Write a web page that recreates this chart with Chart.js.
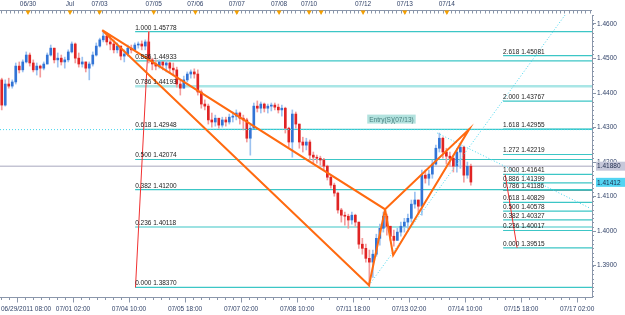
<!DOCTYPE html>
<html>
<head>
<meta charset="utf-8">
<script src="https://cdn.jsdelivr.net/npm/chart.js@4.4.1/dist/chart.umd.min.js"></script>
<style>
  html, body { margin: 0; padding: 0; background: #fff; }
  #wrap { width: 625px; height: 315px; }
</style>
</head>
<body>
<div id="wrap"><canvas id="chart" width="625" height="315"></canvas></div>
<script>
// 2h bars, EURUSD-ish
const firstOpen = 1.4438;
const highs = [
  1.4443,1.4438,1.4443,1.4438,1.4487,1.4490,1.4496,1.4519,1.4516,1.4496,
  1.4487,1.4481,1.4490,1.4516,1.4539,1.4530,1.4516,1.4510,1.4504,1.4525,
  1.4548,1.4545,1.4516,1.4504,1.4490,1.4490,1.4519,1.4545,1.4559,1.4580,
  1.4574,1.4565,1.4554,1.4545,1.4536,1.4525,1.4539,1.4539,1.4545,1.4548,
  1.4551,1.4554,1.4578,1.4501,1.4496,1.4496,1.4490,1.4496,1.4490,1.4487,
  1.4475,1.4438,1.4449,1.4461,1.4467,1.4470,1.4467,1.4409,1.4380,1.4368,
  1.4342,1.4336,1.4327,1.4330,1.4330,1.4339,1.4345,1.4351,1.4345,1.4336,
  1.4327,1.4307,1.4371,1.4377,1.4374,1.4371,1.4368,1.4371,1.4371,1.4368,
  1.4365,1.4359,1.4301,1.4351,1.4345,1.4310,1.4272,1.4269,1.4264,1.4229,
  1.4220,1.4217,1.4211,1.4191,1.4159,1.4139,1.4113,1.4066,1.4055,1.4049,
  1.4055,1.4049,1.4026,1.3979,1.3962,1.3945,1.3945,1.3991,1.4020,1.4055,
  1.4049,1.4014,1.4003,1.4008,1.4026,1.4037,1.4049,1.4090,1.4113,1.4090,
  1.4177,1.4177,1.4177,1.4206,1.4249,1.4284,1.4272,1.4240,1.4229,1.4220,
  1.4240,1.4255,1.4246,1.4200,1.4194
];
const lows = [
  1.4351,1.4362,1.4414,1.4414,1.4426,1.4458,1.4461,1.4487,1.4478,1.4461,
  1.4452,1.4446,1.4467,1.4484,1.4507,1.4487,1.4475,1.4481,1.4472,1.4490,
  1.4516,1.4487,1.4475,1.4475,1.4461,1.4438,1.4478,1.4507,1.4533,1.4548,
  1.4539,1.4525,1.4516,1.4516,1.4496,1.4490,1.4507,1.4516,1.4525,1.4530,
  1.4525,1.4525,1.4487,1.4467,1.4467,1.4472,1.4467,1.4461,1.4458,1.4452,
  1.4417,1.4394,1.4414,1.4432,1.4443,1.4443,1.4394,1.4356,1.4351,1.4310,
  1.4301,1.4304,1.4298,1.4301,1.4304,1.4310,1.4316,1.4322,1.4310,1.4293,
  1.4258,1.4220,1.4298,1.4345,1.4342,1.4345,1.4342,1.4348,1.4351,1.4342,
  1.4333,1.4284,1.4243,1.4214,1.4298,1.4240,1.4229,1.4235,1.4206,1.4197,
  1.4197,1.4191,1.4177,1.4148,1.4124,1.4101,1.4052,1.4026,1.4017,1.4008,
  1.4020,1.4014,1.3950,1.3933,1.3910,1.3837,1.3866,1.3927,1.3959,1.3997,
  1.3988,1.3973,1.3956,1.3973,1.3985,1.3997,1.4008,1.4026,1.4066,1.4049,
  1.4046,1.4139,1.4133,1.4153,1.4191,1.4229,1.4211,1.4194,1.4188,1.4171,
  1.4171,1.4182,1.4142,1.4153,1.4133
];
const closes = [
  1.4365,1.4426,1.4420,1.4432,1.4478,1.4467,1.4490,1.4510,1.4487,1.4467,
  1.4478,1.4472,1.4484,1.4510,1.4530,1.4496,1.4501,1.4490,1.4496,1.4519,
  1.4542,1.4501,1.4484,1.4490,1.4472,1.4484,1.4510,1.4536,1.4554,1.4565,
  1.4548,1.4542,1.4525,1.4536,1.4507,1.4513,1.4530,1.4525,1.4539,1.4542,
  1.4536,1.4548,1.4496,1.4484,1.4478,1.4490,1.4481,1.4487,1.4472,1.4467,
  1.4426,1.4414,1.4438,1.4455,1.4461,1.4455,1.4403,1.4368,1.4362,1.4322,
  1.4316,1.4327,1.4307,1.4322,1.4316,1.4330,1.4333,1.4342,1.4327,1.4322,
  1.4269,1.4298,1.4362,1.4356,1.4368,1.4356,1.4362,1.4365,1.4359,1.4351,
  1.4356,1.4298,1.4258,1.4339,1.4310,1.4258,1.4249,1.4258,1.4220,1.4214,
  1.4211,1.4206,1.4188,1.4156,1.4133,1.4110,1.4061,1.4046,1.4043,1.4032,
  1.4046,1.4026,1.3962,1.3950,1.3921,1.3910,1.3933,1.3979,1.4008,1.4043,
  1.4014,1.3985,1.3973,1.3997,1.4014,1.4026,1.4037,1.4078,1.4090,1.4072,
  1.4162,1.4153,1.4165,1.4194,1.4240,1.4269,1.4229,1.4217,1.4211,1.4188,
  1.4229,1.4243,1.4162,1.4188,1.4142
];

// axes
const xMax = 169.1;
const yMin = 1.3809, yMax = 1.4626;
const yTicks = [1.39, 1.40, 1.41, 1.42, 1.43, 1.44, 1.45, 1.46];
const bottomTickPos = [4.86, 20.86, 36.86, 52.86, 68.86, 84.86, 100.86, 116.86, 132.86, 148.86, 164.86];
const bottomLabels = ["06/29/2011 08:00", "07/01 02:00", "07/04 10:00", "07/05 18:00", "07/07 02:00",
  "07/08 10:00", "07/11 18:00", "07/13 02:00", "07/14 10:00", "07/15 18:00", "07/17 02:00"];
const topPos = [8.0, 20.0, 28.43, 43.91, 55.8, 67.63, 79.71, 88.29, 91.71, 103.71, 115.63, 127.63];
const topLabels = ["06/30", "Jul", "07/03", "07/05", "07/06", "07/07", "07/08", "07/10", "", "07/12", "07/13", "07/14"];

// fibonacci tools
const fibLeftRatios = ["1.000", "0.886", "0.786", "0.618", "0.500", "0.382", "0.236", "0.000"];
const fibLeftLevels = [1.45778, 1.44933, 1.44193, 1.42948, 1.42074, 1.41200, 1.40118, 1.38370];
const fibLeftStart = 38.6;
const fibLeftDiagX = [42.5, 38.7];
const fibLeftDiagY = [1.45778, 1.38370];

const fibRightRatios = ["2.618", "2.000", "1.618", "1.272", "1.000", "0.886", "0.786", "0.618", "0.500", "0.382", "0.236", "0.000"];
const fibRightLevels = [1.45081, 1.43767, 1.42955, 1.42219, 1.41641, 1.41399, 1.41186, 1.40829, 1.40578, 1.40327, 1.40017, 1.39515];
const fibRightStart = 143.7;
const fibRightDiagX = [144.3, 147.7];
const fibRightDiagY = [1.41641, 1.39515];

// XABCD pattern
const patternX = [29.2, 105.4, 110.0, 112.3, 134.0];
const patternY = [1.4582, 1.3843, 1.4063, 1.3930, 1.4295];

// other objects
const entryPrice = 1.4294, entryLabelX = 104.9, entryText = "Entry(S)(07/13)";
const riseLineX = [105.4, 161.4], riseLineY = [1.3843, 1.4626];
const fallLineX = [124.9, 168.6], fallLineY = [1.4284, 1.4066];
const bidPrice = 1.41880, lastPrice = 1.41412;

const FONT = '"Liberation Sans", Arial, sans-serif';
const AXIS = "#8a96aa";
const TEXT = "#33446a";
const FIB = "#3cc6c6";
const ORANGE = "#ff6a10";
const DOT = "#45d6ee";

const opens = closes.map((c, i) => i === 0 ? firstOpen : closes[i - 1]);
const isUp = closes.map((c, i) => c >= opens[i]);

const datasets = [];

datasets.push({
  type: "line", order: 0,
  data: [0, 1, 2, 0, -1, 2, 3, 4, 2].map(k => k < 0 ? { x: patternX[2], y: null } : { x: patternX[k], y: patternY[k] }),
  borderColor: ORANGE, borderWidth: 2, pointRadius: 0, tension: 0, fill: false
});

datasets.push({
  type: "line", order: 1,
  data: [
    { x: riseLineX[0], y: riseLineY[0] }, { x: riseLineX[1], y: riseLineY[1] }, { x: riseLineX[1], y: null },
    { x: fallLineX[0], y: fallLineY[0] }, { x: fallLineX[1], y: fallLineY[1] }, { x: fallLineX[1], y: null },
    { x: 0, y: entryPrice }, { x: xMax, y: entryPrice }
  ],
  borderColor: DOT, borderWidth: 1, borderDash: [1, 2], pointRadius: 0, fill: false
});

datasets.push({
  type: "line", order: 1,
  data: [
    { x: fibLeftDiagX[0], y: fibLeftDiagY[0] }, { x: fibLeftDiagX[1], y: fibLeftDiagY[1] }, { x: fibLeftDiagX[1], y: null },
    { x: fibRightDiagX[0], y: fibRightDiagY[0] }, { x: fibRightDiagX[1], y: fibRightDiagY[1] }
  ],
  borderColor: "#f03030", borderWidth: 1, pointRadius: 0, fill: false
});

datasets.push({
  type: "bar", order: 2, grouped: false,
  data: closes.map((c, i) => ({ x: i + 0.5, y: [opens[i], c] })),
  backgroundColor: isUp.map(u => u ? "#3274d6" : "#e02424"),
  barThickness: 2, minBarLength: 1
});

datasets.push({
  type: "bar", order: 3, grouped: false,
  data: closes.map((c, i) => ({ x: i + 0.5, y: [Math.min(lows[i], opens[i], c), Math.max(highs[i], opens[i], c)] })),
  backgroundColor: isUp.map(u => u ? "#9cc2f0" : "#f39c9c"),
  barThickness: 1
});

fibLeftLevels.forEach((lv, i) => {
  const light = fibLeftRatios[i] === "0.786";
  datasets.push({
    type: "line", order: 4,
    data: [{ x: fibLeftStart, y: lv }, { x: xMax, y: lv }],
    borderColor: light ? "#a9e6e6" : FIB, borderWidth: light ? 2.5 : 1.2, pointRadius: 0, fill: false
  });
});
fibRightLevels.forEach((lv, i) => {
  const dark = fibRightRatios[i] === "0.786";
  datasets.push({
    type: "line", order: 4,
    data: [{ x: fibRightStart, y: lv }, { x: xMax, y: lv }],
    borderColor: dark ? "#1f8c8c" : FIB, borderWidth: 1.2, pointRadius: 0, fill: false
  });
});

datasets.push({
  type: "line", order: 4,
  data: [{ x: 0, y: bidPrice }, { x: xMax, y: bidPrice }],
  borderColor: "#a8a8be", borderWidth: 1, pointRadius: 0, fill: false
});

const overlay = {
  id: "overlay",
  afterDatasetsDraw(chart) {
    const { ctx, scales: { x, y } } = chart;
    ctx.save();
    ctx.font = "6.5px " + FONT;
    ctx.fillStyle = "#222";
    ctx.textAlign = "left";
    ctx.textBaseline = "alphabetic";
    fibLeftLevels.forEach((lv, i) => {
      ctx.fillText(fibLeftRatios[i] + " " + lv.toFixed(5), x.getPixelForValue(fibLeftStart), y.getPixelForValue(lv) - 2);
    });
    fibRightLevels.forEach((lv, i) => {
      ctx.fillText(fibRightRatios[i] + " " + lv.toFixed(5), x.getPixelForValue(fibRightStart), y.getPixelForValue(lv) - 2);
    });
    // entry label
    const ex = x.getPixelForValue(entryLabelX);
    const ey = y.getPixelForValue(entryPrice);
    const w = ctx.measureText(entryText).width + 4;
    ctx.fillStyle = "#b2e2de";
    ctx.fillRect(ex, ey - 15, w, 9);
    ctx.fillStyle = "#4a8080";
    ctx.fillText(entryText, ex + 2, ey - 8);
    ctx.restore();
  },
  afterDraw(chart) {
    const { ctx, chartArea: a, scales: { x, y } } = chart;
    ctx.save();
    ctx.font = "6.5px " + FONT;
    ctx.strokeStyle = AXIS;
    ctx.lineWidth = 1;

    // bottom axis
    const bY = Math.round(a.bottom) + 0.5;
    ctx.beginPath();
    ctx.moveTo(a.left, bY); ctx.lineTo(a.right, bY);
    const step = (bottomTickPos[1] - bottomTickPos[0]) / 7;
    for (let v = bottomTickPos[0] - 6 * step; v < xMax; v += step) {
      if (v < 0) continue;
      const px = Math.round(x.getPixelForValue(v)) + 0.5;
      ctx.moveTo(px, bY); ctx.lineTo(px, bY + 2.5);
    }
    bottomTickPos.forEach(v => {
      const px = Math.round(x.getPixelForValue(v)) + 0.5;
      ctx.moveTo(px, bY); ctx.lineTo(px, bY + 5);
    });
    ctx.stroke();
    ctx.fillStyle = TEXT;
    ctx.textAlign = "center";
    ctx.textBaseline = "middle";
    bottomTickPos.forEach((v, i) => {
      let px = x.getPixelForValue(v);
      const tw = ctx.measureText(bottomLabels[i]).width;
      if (px - tw / 2 < 1) px = 1 + tw / 2;
      ctx.fillText(bottomLabels[i], px, 309);
    });

    // top axis
    const tY = 10.5;
    ctx.beginPath();
    ctx.moveTo(a.left, tY); ctx.lineTo(a.right, tY);
    for (let v = 0.4; v < xMax; v += 1.2) {
      const px = Math.round(x.getPixelForValue(v)) + 0.5;
      ctx.moveTo(px, tY); ctx.lineTo(px, tY + 3);
    }
    ctx.stroke();
    topPos.forEach((v, i) => {
      const px = x.getPixelForValue(v);
      ctx.fillStyle = "#f5a000";
      ctx.beginPath();
      ctx.moveTo(px - 2.5, tY); ctx.lineTo(px + 2.5, tY); ctx.lineTo(px, tY + 4.5);
      ctx.closePath(); ctx.fill();
      if (topLabels[i]) {
        ctx.fillStyle = TEXT;
        ctx.fillText(topLabels[i], px, 4.5);
      }
    });

    // right axis minor ticks
    ctx.beginPath();
    for (let v = 1.38; v <= yMax; v += 0.00125) {
      if (v < yMin) continue;
      const py = Math.round(y.getPixelForValue(v)) + 0.5;
      ctx.moveTo(a.right, py); ctx.lineTo(a.right + 2, py);
    }
    ctx.stroke();

    // price boxes on the axis
    ctx.textAlign = "left";
    [[bidPrice, "#c6c8da"], [lastPrice, "#52d4f2"]].forEach(([p, bg]) => {
      const py = y.getPixelForValue(p);
      ctx.fillStyle = bg;
      ctx.fillRect(a.right + 4, py - 4.5, 29, 9);
      ctx.fillStyle = "#1c2a4a";
      ctx.fillText(p.toFixed(5), a.right + 5, py + 0.5);
    });
    ctx.restore();
  }
};

new Chart(document.getElementById("chart"), {
  type: "bar",
  data: { datasets },
  options: {
    responsive: false,
    animation: false,
    devicePixelRatio: 1,
    events: [],
    layout: { padding: { top: 15, bottom: 18, left: 0, right: 0 } },
    plugins: { legend: { display: false }, tooltip: { enabled: false } },
    scales: {
      x: { type: "linear", display: false, min: 0, max: xMax, offset: false },
      y: {
        position: "right", min: yMin, max: yMax,
        afterBuildTicks: s => { s.ticks = yTicks.map(v => ({ value: v })); },
        afterFit: s => { s.width = 33; },
        grid: { drawOnChartArea: false, tickLength: 4, color: AXIS },
        border: { color: AXIS },
        ticks: { padding: 1, color: TEXT, font: { family: FONT, size: 6.5 }, callback: v => v.toFixed(4) }
      }
    }
  },
  plugins: [overlay]
});
</script>
</body>
</html>
